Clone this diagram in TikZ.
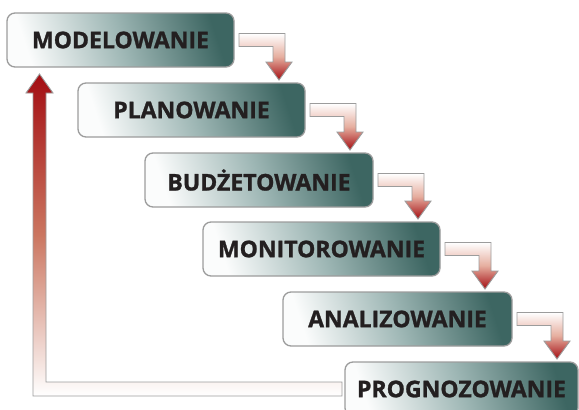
\documentclass[tikz,border=0pt]{standalone}
\usepackage{fontspec}
\newfontfamily\labelfont{Open Sans}[BoldFeatures={FakeBold=1.2}]
\usetikzlibrary{calc}

\definecolor{boxdark}{HTML}{3D6662}
\definecolor{boxlight}{HTML}{FBFCFC}
\definecolor{boxmid}{HTML}{9DB6B4}
\definecolor{edge}{HTML}{9C9C9C}
\definecolor{ink}{HTML}{231F20}
\definecolor{arrowred}{HTML}{A30D12}
\definecolor{arrowpink}{HTML}{E6AE9F}
\definecolor{loopmid}{HTML}{CB7660}

\tikzset{
  stage/.style={draw=edge, line width=1.3pt, rounded corners=8pt,
    top color=boxdark, bottom color=boxlight, middle color=boxmid,
    shading angle=-72,
    minimum width=#1, minimum height=54pt, inner sep=0pt, outer sep=0pt,
    anchor=north west, text=ink,
    font=\labelfont\bfseries\fontsize{23}{23}\selectfont},
  flow/.style={draw=edge, line width=0.9pt, line join=miter,
    top color=white, bottom color=arrowred, middle color=arrowpink},
  loopback/.style={draw=edge, line width=0.9pt, line join=miter,
    top color=arrowred, bottom color=white, middle color=loopmid},
}

% elbow arrow from the right side of one stage down onto the next one
\newcommand\flowstep[2]{%
  \path[flow] let \p1=(#1.east), \p2=(#2.north) in
    (\x1+5pt,\y1+6.5pt) -- (\x1+51pt,\y1+6.5pt) -- (\x1+51pt,\y2+21pt)
    -- (\x1+58pt,\y2+21pt) -- (\x1+45pt,\y2+3pt) -- (\x1+32pt,\y2+21pt)
    -- (\x1+39pt,\y2+21pt) -- (\x1+39pt,\y1-6.5pt) -- (\x1+5pt,\y1-6.5pt)
    -- cycle;}

\begin{document}
\begin{tikzpicture}[x=1pt,y=-1pt]
\useasboundingbox (0,0) rectangle (579,410);
\begin{scope}
\clip (0,0) rectangle (579,410);

\node[stage=227pt] (m1) at (7,13)  {MODELOWANIE};
\node[stage=227pt] (m2) at (78,83) {PLANOWANIE};
\node[stage=228pt] (m3) at (145,153) {BUDŻETOWANIE};
\node[stage=237pt] (m4) at (203,222) {MONITOROWANIE};
\node[stage=229pt] (m5) at (283,292) {ANALIZOWANIE};
\node[stage=233pt] (m6) at (345,362) {PROGNOZOWANIE};

\flowstep{m1}{m2}
\flowstep{m2}{m3}
\flowstep{m3}{m4}
\flowstep{m4}{m5}
\flowstep{m5}{m6}

% return arrow from the last stage back up to the first
\path[loopback] let \p1=(m1.south west), \p2=(m6.west) in
  (\x2-3pt,\y2+7pt) -- (\x1+39pt,\y2+7pt) -- (\x1+39pt,\y1-26pt)
  -- (\x1+46pt,\y1-26pt) -- (\x1+32.5pt,\y1-7pt) -- (\x1+19pt,\y1-26pt)
  -- (\x1+26pt,\y1-26pt) -- (\x1+26pt,\y2-7pt) -- (\x2-3pt,\y2-7pt)
  -- cycle;
\end{scope}
\end{tikzpicture}
\end{document}
